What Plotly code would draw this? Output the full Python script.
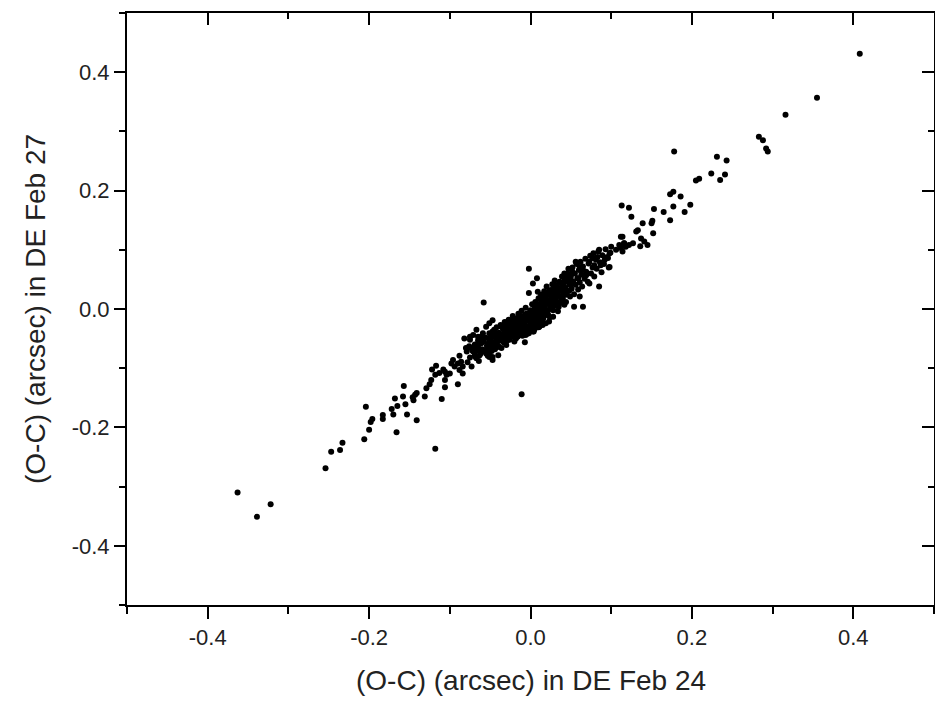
import plotly.graph_objects as go

# (O-C) residuals
# sparse / tail points
tail_x = [-0.363, -0.339, -0.322, -0.254, -0.247, -0.236, -0.233, -0.206, -0.200, -0.198,
          -0.196, -0.204, -0.183, -0.183, -0.166, -0.172, -0.170, -0.168, -0.165, -0.157,
          -0.158, -0.155, -0.153, -0.146, -0.145, -0.143, -0.141, -0.141, -0.118, -0.011,
          -0.131, -0.110, -0.129, -0.125, -0.123, -0.122, -0.117, -0.113, -0.118, -0.108,
          -0.106, -0.104, -0.106, -0.106, -0.090, -0.100, -0.098, -0.096, -0.094, -0.090,
          -0.088, -0.086, -0.088, -0.084, -0.084, -0.082, -0.075, -0.073, -0.069, -0.067,
          -0.065, -0.063, -0.061, -0.080, -0.071, -0.055, -0.051, -0.047, -0.040, -0.042,
          -0.049, 0.003, -0.007, -0.058,
          -0.075, -0.071, -0.067, -0.065, -0.063, -0.059, -0.055, -0.051, -0.047, -0.045,
          -0.049, -0.042, -0.067, -0.063, -0.071, -0.078, -0.047, -0.051, -0.055,
          -0.002, 0.008, 0.003, -0.002, 0.009,
          0.112, 0.116, 0.122, 0.110, 0.106, 0.100, 0.098, 0.096, 0.098, 0.092,
          0.085, 0.083, 0.077, 0.073, 0.079, 0.087, 0.073, 0.085, 0.065, 0.069,
          0.061, 0.056, 0.052, 0.046, 0.042, 0.050, 0.059, 0.061, 0.065, 0.054,
          0.042, 0.028, 0.023, 0.015,
          0.178, 0.231, 0.243, 0.224, 0.241, 0.235, 0.205, 0.209, 0.173, 0.177,
          0.186, 0.177, 0.198, 0.191, 0.165, 0.173, 0.153, 0.113, 0.122, 0.125,
          0.139, 0.150, 0.151, 0.152, 0.131, 0.133, 0.137, 0.141, 0.145, 0.136,
          0.127, 0.114, 0.116, 0.112, 0.114, 0.118, 0.283, 0.288, 0.292, 0.294,
          0.408, 0.355, 0.316]
tail_y = [-0.310, -0.351, -0.330, -0.269, -0.241, -0.238, -0.226, -0.220, -0.204, -0.191,
          -0.186, -0.165, -0.179, -0.186, -0.208, -0.169, -0.178, -0.151, -0.164, -0.130,
          -0.148, -0.161, -0.178, -0.149, -0.154, -0.145, -0.142, -0.188, -0.236, -0.144,
          -0.148, -0.152, -0.134, -0.127, -0.120, -0.102, -0.096, -0.108, -0.111, -0.102,
          -0.106, -0.111, -0.120, -0.132, -0.127, -0.109, -0.092, -0.086, -0.097, -0.092,
          -0.079, -0.089, -0.103, -0.109, -0.097, -0.050, -0.047, -0.066, -0.078, -0.083,
          -0.064, -0.058, -0.047, -0.066, -0.072, -0.075, -0.081, -0.086, -0.078, -0.064,
          -0.058, -0.038, -0.056, 0.011,
          -0.052, -0.044, -0.035, -0.047, -0.052, -0.041, -0.030, -0.024, -0.019, -0.035,
          -0.047, -0.052, -0.066, -0.078, -0.069, -0.066, -0.081, -0.075, -0.069,
          0.068, 0.052, 0.043, 0.027, 0.029,
          0.122, 0.111, 0.108, 0.108, 0.100, 0.105, 0.094, 0.086, 0.071, 0.083,
          0.100, 0.088, 0.086, 0.080, 0.074, 0.074, 0.043, 0.038, 0.066, 0.057,
          0.071, 0.080, 0.063, 0.060, 0.052, 0.049, 0.052, 0.021, 0.004, 0.004,
          0.007, -0.013, -0.021, -0.027,
          0.266, 0.257, 0.251, 0.229, 0.227, 0.218, 0.217, 0.220, 0.194, 0.198,
          0.190, 0.173, 0.176, 0.164, 0.164, 0.150, 0.169, 0.175, 0.171, 0.156,
          0.145, 0.145, 0.149, 0.128, 0.131, 0.133, 0.119, 0.114, 0.108, 0.106,
          0.111, 0.122, 0.111, 0.103, 0.097, 0.105, 0.291, 0.285, 0.271, 0.266,
          0.431, 0.357, 0.328]

# dense core points
core_x = [-0.060, -0.058, -0.057, -0.056, -0.054, -0.053, -0.052, -0.051, -0.050,
          -0.049, -0.048, -0.047, -0.046, -0.045, -0.044, -0.043, -0.042, -0.041, -0.040,
          -0.039, -0.038, -0.037, -0.036, -0.035, -0.034, -0.033, -0.032, -0.031, -0.030, -0.030,
          -0.029, -0.028, -0.027, -0.026, -0.025, -0.024, -0.023, -0.022, -0.021, -0.020, -0.020,
          -0.019, -0.018, -0.017, -0.016, -0.015, -0.014, -0.013, -0.012, -0.011, -0.010, -0.010,
          -0.009, -0.008, -0.007, -0.006, -0.005, -0.004, -0.003, -0.002, -0.001, 0.000, 0.000,
          0.001, 0.002, 0.003, 0.004, 0.005, 0.006, 0.007, 0.008, 0.009, 0.010, 0.010,
          0.011, 0.012, 0.013, 0.014, 0.015, 0.016, 0.017, 0.018, 0.019, 0.020, 0.020,
          0.021, 0.022, 0.023, 0.024, 0.025, 0.026, 0.027, 0.028, 0.029, 0.030, 0.030,
          0.031, 0.032, 0.033, 0.034, 0.035, 0.036, 0.037, 0.038, 0.039, 0.040, 0.040,
          0.041, 0.042, 0.043, 0.044, 0.045, 0.046, 0.047, 0.048, 0.049, 0.050,
          0.051, 0.052, 0.053, 0.054, 0.055, 0.056, 0.057, 0.058, 0.059, 0.060,
          0.061, 0.062, 0.063, 0.064, 0.065, 0.067, 0.068, 0.069,
          0.071, 0.072, 0.074, 0.075, 0.077, 0.078, 0.079,
          0.081, 0.082, 0.084, 0.086, 0.088, 0.089,
          0.091, 0.093, 0.095, 0.097, 0.099,
          -0.069, -0.068, -0.066, -0.065, -0.064, -0.062, -0.061,
          -0.079, -0.078, -0.076, -0.075, -0.073, -0.072,
          -0.028, -0.025, -0.022, -0.019, -0.017, -0.015, -0.013, -0.011, -0.009, -0.007,
          -0.006, -0.004, -0.003, -0.001, 0.001, 0.002, 0.004, 0.005, 0.006, 0.008,
          0.009, 0.011, 0.012, 0.013, 0.015, 0.016, 0.018, 0.019, 0.021, 0.023,
          0.024, 0.026, 0.027, 0.029, 0.031, 0.033, 0.035, 0.036, 0.038, 0.039,
          -0.045, -0.043, -0.041, -0.038, -0.036, -0.034, -0.032, -0.031, -0.029, -0.027,
          -0.026, -0.024, -0.023, -0.021, -0.019, -0.018, -0.016, -0.014, -0.012, -0.011,
          -0.009, -0.008, -0.006, -0.005, -0.004, -0.002, -0.001, 0.001, 0.003, 0.004,
          0.006, 0.007, 0.009, 0.010, 0.012, 0.013, 0.015, 0.016, 0.018, 0.019,
          0.021, 0.022, 0.024, 0.025, 0.027, 0.028, 0.030, 0.032, 0.033, 0.035,
          0.037, 0.038, 0.040, 0.042, 0.044, 0.046, 0.048, 0.050, -0.052, -0.048]
core_y = [-0.068, -0.055, -0.072, -0.048, -0.062, -0.079, -0.058, -0.041, -0.066,
          -0.052, -0.071, -0.038, -0.060, -0.046, -0.068, -0.055, -0.031, -0.049, -0.062,
          -0.040, -0.053, -0.027, -0.066, -0.045, -0.034, -0.057, -0.022, -0.048, -0.038, -0.061,
          -0.030, -0.044, -0.018, -0.052, -0.036, -0.025, -0.046, -0.012, -0.033, -0.055, -0.024,
          -0.040, -0.016, -0.030, -0.047, -0.008, -0.026, -0.038, -0.019, -0.003, -0.032, -0.045,
          -0.014, -0.024, -0.036, 0.002, -0.018, -0.029, -0.009, -0.041, -0.021, -0.002, -0.031,
          -0.013, 0.008, -0.024, -0.005, -0.034, 0.012, -0.016, -0.002, -0.027, 0.018, -0.009,
          0.004, -0.020, 0.024, -0.006, 0.011, -0.015, 0.030, 0.001, -0.024, 0.016, 0.038,
          -0.005, 0.025, 0.008, -0.014, 0.032, 0.014, 0.042, -0.002, 0.020, 0.006, 0.048,
          0.028, 0.013, 0.037, -0.004, 0.022, 0.046, 0.010, 0.031, 0.055, 0.018, 0.040,
          0.026, 0.060, 0.036, 0.012, 0.048, 0.030, 0.068, 0.041, 0.021, 0.055,
          0.034, 0.070, 0.046, 0.025, 0.060, 0.041, 0.076, 0.052, 0.033, 0.066,
          0.045, 0.080, 0.058, 0.038, 0.072, 0.051, 0.085, 0.063,
          0.046, 0.077, 0.090, 0.060, 0.070, 0.094, 0.055,
          0.083, 0.068, 0.097, 0.079, 0.062, 0.091,
          0.076, 0.101, 0.088, 0.070, 0.095,
          -0.060, -0.081, -0.070, -0.053, -0.088, -0.075, -0.058,
          -0.072, -0.090, -0.063, -0.082, -0.097, -0.070,
          -0.021, -0.047, -0.030, -0.022, -0.044, -0.033, -0.014, -0.040, -0.028, -0.011,
          -0.044, -0.020, -0.034, -0.006, -0.028, -0.016, -0.038, 0.000, -0.021, -0.011,
          0.006, -0.030, -0.001, 0.012, -0.022, 0.004, 0.021, -0.010, 0.009, 0.030,
          0.000, 0.022, 0.004, 0.034, 0.016, 0.024, 0.004, 0.034, 0.020, 0.043,
          -0.058, -0.040, -0.064, -0.046, -0.030, -0.051, -0.039, -0.028, -0.053, -0.035,
          -0.024, -0.041, -0.019, -0.045, -0.031, -0.050, -0.021, -0.042, -0.029, -0.012,
          -0.037, -0.019, -0.030, -0.008, -0.042, -0.015, -0.033, -0.004, -0.019, -0.030,
          -0.008, 0.004, -0.018, -0.031, 0.008, -0.012, 0.001, 0.019, -0.008, 0.010,
          0.024, -0.010, 0.015, 0.004, 0.027, 0.012, 0.021, 0.040, 0.005, 0.030,
          0.044, 0.014, 0.030, 0.045, 0.024, 0.052, 0.031, 0.042, -0.050, -0.063]

tick_vals = [-0.4, -0.2, 0.0, 0.2, 0.4]
tick_text = ["-0.4", "-0.2", "0.0", "0.2", "0.4"]
x_title = "(O-C) (arcsec) in DE Feb 24"
y_title = "(O-C) (arcsec) in DE Feb 27"

FONT = "Arial, Liberation Sans, sans-serif"
marker = dict(color="black", size=6, line=dict(width=0))

fig = go.Figure()
fig.add_trace(go.Scatter(x=tail_x + core_x, y=tail_y + core_y, mode="markers",
                         marker=marker, showlegend=False))
# empty trace to activate mirrored (top/right) axes
fig.add_trace(go.Scatter(x=[], y=[], xaxis="x2", yaxis="y2", showlegend=False))

common = dict(showgrid=False, zeroline=False, showline=True, linecolor="black",
              linewidth=2, tickwidth=2, tickcolor="black", range=[-0.5, 0.5],
              tickvals=tick_vals)

fig.update_layout(
    width=935, height=705, autosize=False,
    margin=dict(l=127, r=1, t=13, b=100),
    paper_bgcolor="white", plot_bgcolor="white",
    xaxis=dict(**common, ticks="outside", ticklen=12, ticktext=tick_text,
               tickfont=dict(family=FONT, size=22, color="#222"),
               minor=dict(ticks="outside", ticklen=7, tickwidth=2, tickcolor="black", dtick=0.1, tick0=0)),
    yaxis=dict(**common, ticks="outside", ticklen=11, ticktext=tick_text,
               tickfont=dict(family=FONT, size=22, color="#222"),
               minor=dict(ticks="outside", ticklen=6, tickwidth=2, tickcolor="black", dtick=0.1, tick0=0)),
    xaxis2=dict(**common, overlaying="x", side="top", anchor="y2", ticks="inside", ticklen=12,
                showticklabels=False,
                minor=dict(ticks="inside", ticklen=6, tickwidth=2, tickcolor="black", dtick=0.1, tick0=0)),
    yaxis2=dict(**common, overlaying="y", side="right", anchor="x2", ticks="inside", ticklen=12,
                showticklabels=False,
                minor=dict(ticks="inside", ticklen=6, tickwidth=2, tickcolor="black", dtick=0.1, tick0=0)),
    annotations=[
        dict(text=x_title, xref="paper", yref="paper", x=0.5, y=-0.127,
             xanchor="center", yanchor="middle", showarrow=False,
             font=dict(family=FONT, size=28, color="#222")),
        dict(text=y_title, xref="paper", yref="paper", x=-0.114, y=0.5,
             xanchor="center", yanchor="middle", textangle=-90, showarrow=False,
             font=dict(family=FONT, size=28, color="#222")),
    ],
)

# remove the default 8px page margin so the figure fills the window exactly
fig.write_html("out.html", config={"displayModeBar": False},
               post_script="document.body.style.margin='0px';")
